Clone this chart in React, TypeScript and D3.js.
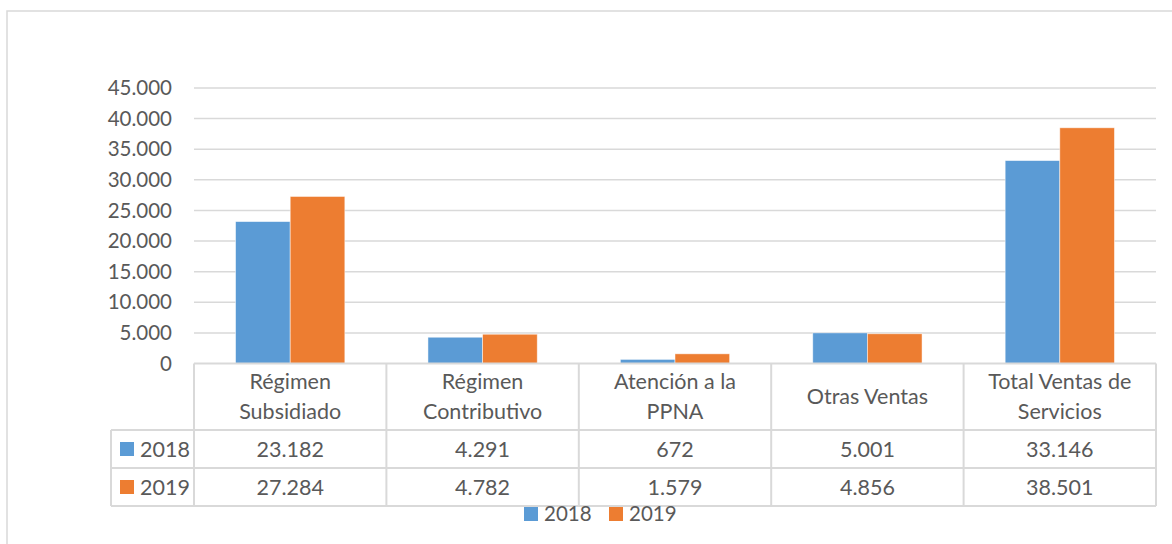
import React from 'react';
import * as d3 from 'd3';

const categories = [
  ['Régimen', 'Subsidiado'],
  ['Régimen', 'Contributivo'],
  ['Atención a la', 'PPNA'],
  ['Otras Ventas'],
  ['Total Ventas de', 'Servicios'],
];
const seriesNames = ['2018', '2019'];
const values2018 = [23182, 4291, 672, 5001, 33146];
const values2019 = [27284, 4782, 1579, 4856, 38501];
const yTicks = [0, 5000, 10000, 15000, 20000, 25000, 30000, 35000, 40000, 45000];

const colors = ['#5b9bd5', '#ed7d31'];
const grid = '#d9d9d9';
const textColor = '#595959';
const font = 'Lato, "Open Sans", sans-serif';

const locale = d3.formatLocale({ decimal: ',', thousands: '.', grouping: [3], currency: ['$', ''] });
const fmt = locale.format(',d');

export default function App() {
  const W = 1172, H = 544;
  const left = 194, right = 1156;
  const keys = categories.map((_, i) => String(i));
  const series = [values2018, values2019];

  const x = d3.scaleBand().domain(keys).range([left, right]).padding(0);
  const bw = x.bandwidth();
  const xs = d3.scaleBand().domain(seriesNames).range([bw * 0.216, bw * 0.784]);
  const y = d3.scaleLinear().domain([0, 45000]).range([363.5, 88]);

  const headTop = y(0), headBot = 430, row1 = 468, row2 = 506;
  const legLeft = 111;
  const fs = 20.5;
  const fsTable = 21.5;

  return (
    <svg width={W} height={H} style={{ position: 'absolute', left: 0, top: 0, background: '#fff' }} fontFamily={font}>
      <rect x={7} y={11} width={1200} height={600} fill="none" stroke={grid} strokeWidth={1.5} />

      {/* gridlines */}
      {yTicks.filter(t => t > 0).map(t => (
        <line key={t} x1={left} x2={right} y1={y(t)} y2={y(t)} stroke={grid} strokeWidth={1.5} />
      ))}
      {yTicks.map(t => (
        <text key={'l' + t} x={172} y={y(t)} dy="0.35em" textAnchor="end" fontSize={fs} fill={textColor}>
          {fmt(t)}
        </text>
      ))}

      {/* bars */}
      {keys.map((k, i) => (
        <g key={k} transform={`translate(${x(k)},0)`}>
          {seriesNames.map((s, j) => (
            <rect key={s} x={xs(s)} y={y(series[j][i])} width={xs.bandwidth()}
              height={y(0) - y(series[j][i])} fill={colors[j]} stroke="#fff" strokeOpacity={0.6} strokeWidth={0.8} />
          ))}
        </g>
      ))}

      {/* data table */}
      <g stroke={grid} strokeWidth={2} fill="none">
        <line x1={left} x2={right} y1={headTop} y2={headTop} />
        <line x1={legLeft} x2={right} y1={headBot} y2={headBot} />
        <line x1={legLeft} x2={right} y1={row1} y2={row1} />
        <line x1={legLeft} x2={right} y1={row2} y2={row2} />
        <line x1={legLeft} x2={legLeft} y1={headBot} y2={row2} />
        {keys.map(k => (
          <line key={k} x1={x(k)} x2={x(k)} y1={headTop} y2={row2} />
        ))}
        <line x1={right} x2={right} y1={headTop} y2={row2} />
      </g>
      {categories.map((lines, i) => {
        const cx = x(keys[i])! + bw / 2;
        const mid = (headTop + headBot) / 2;
        return (
          <text key={i} textAnchor="middle" fontSize={fsTable} fill={textColor}>
            {lines.map((ln, li) => (
              <tspan key={li} x={cx} y={mid + (li - (lines.length - 1) / 2) * 30} dy="0.35em">{ln}</tspan>
            ))}
          </text>
        );
      })}
      {seriesNames.map((s, j) => {
        const top = j === 0 ? headBot : row1;
        const bot = j === 0 ? row1 : row2;
        const cy = (top + bot) / 2;
        return (
          <g key={s}>
            <rect x={120} y={cy - 7} width={14} height={14} fill={colors[j]} />
            <text x={140} y={cy} dy="0.35em" fontSize={fsTable} fill={textColor}>{s}</text>
            {series[j].map((v, i) => (
              <text key={i} x={x(keys[i])! + bw / 2} y={cy} dy="0.35em" textAnchor="middle" fontSize={fsTable} fill={textColor}>
                {fmt(v)}
              </text>
            ))}
          </g>
        );
      })}

      {/* legend */}
      {seriesNames.map((s, j) => (
        <g key={s} transform={`translate(${524 + j * 85},514)`}>
          <rect x={0} y={-7} width={14} height={14} fill={colors[j]} />
          <text x={20} y={0} dy="0.35em" fontSize={fs} fill={textColor}>{s}</text>
        </g>
      ))}
    </svg>
  );
}
